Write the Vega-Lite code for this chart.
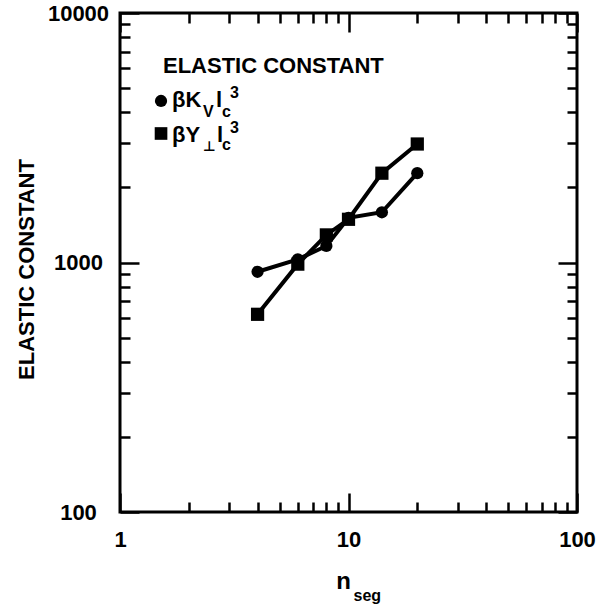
{
  "$schema": "https://vega.github.io/schema/vega-lite/v6.json",
  "width": 457,
  "height": 499,
  "autosize": {"type": "none"},
  "padding": {"left": 120, "top": 13, "right": 31, "bottom": 101},
  "background": "white",
  "config": {
    "view": {"stroke": "black", "strokeWidth": 3},
    "axis": {"grid": false, "domain": false, "tickColor": "black", "tickWidth": 2.5, "labelColor": "black", "titleColor": "black", "labelFont": "Liberation Sans", "titleFont": "Liberation Sans", "labelFontWeight": "bold", "titleFontWeight": "bold", "labelFontSize": 22, "titleFontSize": 21, "labelFlush": false, "labelOverlap": false, "labelBound": false},
    "text": {"font": "Liberation Sans", "fontWeight": "bold", "color": "black", "align": "left", "baseline": "alphabetic"}
  },
  "data": {"values": [
    {"n": 4, "value": 918, "series": "Kv"},
    {"n": 6, "value": 1030, "series": "Kv"},
    {"n": 8, "value": 1165, "series": "Kv"},
    {"n": 10, "value": 1510, "series": "Kv"},
    {"n": 14, "value": 1590, "series": "Kv"},
    {"n": 20, "value": 2280, "series": "Kv"},
    {"n": 4, "value": 620, "series": "Yperp"},
    {"n": 6, "value": 985, "series": "Yperp"},
    {"n": 8, "value": 1290, "series": "Yperp"},
    {"n": 10, "value": 1490, "series": "Yperp"},
    {"n": 14, "value": 2280, "series": "Yperp"},
    {"n": 20, "value": 2985, "series": "Yperp"}
  ]},
  "resolve": {"axis": {"x": "independent", "y": "independent"}},
  "layer": [
    {
      "layer": [
        {
          "mark": {"type": "line", "color": "black", "strokeWidth": 4},
          "encoding": {
            "x": {"field": "n", "type": "quantitative", "scale": {"type": "log", "domain": [1, 100]},
              "axis": {"orient": "bottom", "values": [1,2,3,4,5,6,7,8,9,10,20,30,40,50,60,70,80,90,100], "labels": false, "title": null,
                "tickSize": {"condition": {"test": "datum.value==1||datum.value==10||datum.value==100", "value": -19}, "value": -10}}},
            "y": {"field": "value", "type": "quantitative", "scale": {"type": "log", "domain": [100, 10000]},
              "axis": {"orient": "left", "values": [100,200,300,400,500,600,700,800,900,1000,2000,3000,4000,5000,6000,7000,8000,9000,10000], "labels": false, "title": null,
                "tickSize": {"condition": {"test": "datum.value==100||datum.value==1000||datum.value==10000", "value": -19}, "value": -10}}},
            "detail": {"field": "series"}
          }
        },
        {
          "mark": {"type": "point", "filled": true, "opacity": 1, "color": "black"},
          "encoding": {
            "x": {"field": "n", "type": "quantitative"},
            "y": {"field": "value", "type": "quantitative"},
            "shape": {"field": "series", "type": "nominal", "scale": {"domain": ["Kv", "Yperp"], "range": ["circle", "square"]}, "legend": null},
            "size": {"field": "series", "type": "nominal", "scale": {"domain": ["Kv", "Yperp"], "range": [150, 175]}, "legend": null}
          }
        },
        {
          "data": {"values": [{}]},
          "mark": {"type": "text", "text": "ELASTIC CONSTANT", "fontSize": 22},
          "encoding": {"x": {"datum": 1.542}, "y": {"datum": 5747}}
        },
        {
          "data": {"values": [{}]},
          "mark": {"type": "point", "filled": true, "opacity": 1, "color": "black", "shape": "circle", "size": 150},
          "encoding": {"x": {"datum": 1.512}, "y": {"datum": 4440}}
        },
        {
          "data": {"values": [{}]},
          "mark": {"type": "point", "filled": true, "opacity": 1, "color": "black", "shape": "square", "size": 160},
          "encoding": {"x": {"datum": 1.512}, "y": {"datum": 3289}}
        },
        {"data": {"values": [{}]}, "mark": {"type": "text", "text": "βK", "fontSize": 22}, "encoding": {"x": {"datum": 1.689}, "y": {"datum": 4201}}},
        {"data": {"values": [{}]}, "mark": {"type": "text", "text": "V", "fontSize": 16, "dx": 31, "dy": 10}, "encoding": {"x": {"datum": 1.689}, "y": {"datum": 4201}}},
        {"data": {"values": [{}]}, "mark": {"type": "text", "text": "l", "fontSize": 22, "dx": 44}, "encoding": {"x": {"datum": 1.689}, "y": {"datum": 4201}}},
        {"data": {"values": [{}]}, "mark": {"type": "text", "text": "c", "fontSize": 16, "dx": 50, "dy": 10}, "encoding": {"x": {"datum": 1.689}, "y": {"datum": 4201}}},
        {"data": {"values": [{}]}, "mark": {"type": "text", "text": "3", "fontSize": 16, "dx": 58, "dy": -9}, "encoding": {"x": {"datum": 1.689}, "y": {"datum": 4201}}},
        {"data": {"values": [{}]}, "mark": {"type": "text", "text": "βY", "fontSize": 22}, "encoding": {"x": {"datum": 1.689}, "y": {"datum": 3041}}},
        {"data": {"values": [{}]}, "mark": {"type": "text", "text": "⊥", "font": "DejaVu Sans", "fontSize": 14, "dx": 31, "dy": 9}, "encoding": {"x": {"datum": 1.689}, "y": {"datum": 3041}}},
        {"data": {"values": [{}]}, "mark": {"type": "text", "text": "l", "fontSize": 22, "dx": 45}, "encoding": {"x": {"datum": 1.689}, "y": {"datum": 3041}}},
        {"data": {"values": [{}]}, "mark": {"type": "text", "text": "c", "fontSize": 16, "dx": 50, "dy": 8}, "encoding": {"x": {"datum": 1.689}, "y": {"datum": 3041}}},
        {"data": {"values": [{}]}, "mark": {"type": "text", "text": "3", "fontSize": 16, "dx": 58, "dy": -9}, "encoding": {"x": {"datum": 1.689}, "y": {"datum": 3041}}}
      ]
    },
    {
      "mark": {"type": "point", "opacity": 0},
      "encoding": {
        "x": {"field": "n", "type": "quantitative", "scale": {"type": "log", "domain": [1, 100]},
          "axis": {"orient": "top", "values": [1,2,3,4,5,6,7,8,9,10,20,30,40,50,60,70,80,90,100], "labels": false,
            "tickSize": {"condition": {"test": "datum.value==1||datum.value==10||datum.value==100", "value": -19}, "value": -10},
            "title": "seg", "titleX": 233, "titleY": 587, "titleAlign": "left", "titleBaseline": "alphabetic", "titleFontSize": 16}},
        "y": {"field": "value", "type": "quantitative", "scale": {"type": "log", "domain": [100, 10000]},
          "axis": {"orient": "right", "values": [100,200,300,400,500,600,700,800,900,1000,2000,3000,4000,5000,6000,7000,8000,9000,10000], "labels": false,
            "tickSize": {"condition": {"test": "datum.value==100||datum.value==1000||datum.value==10000", "value": -19}, "value": -10},
            "title": null}}
      }
    },
    {
      "mark": {"type": "point", "opacity": 0},
      "encoding": {
        "x": {"field": "n", "type": "quantitative", "scale": {"type": "log", "domain": [1, 100]},
          "axis": {"orient": "bottom", "values": [1, 10, 100], "ticks": false,
            "format": "d", "labelPadding": 17, "labelBaseline": "top", "labelAlign": "center",
            "title": "n", "titleX": 223, "titleY": 76, "titleAlign": "center", "titleBaseline": "alphabetic", "titleFontSize": 24}},
        "y": {"field": "value", "type": "quantitative", "scale": {"type": "log", "domain": [100, 10000]},
          "axis": {"orient": "left", "values": [100, 1000, 10000], "ticks": false,
            "format": "d", "labelPadding": 42, "labelAlign": "center", "labelBaseline": "middle",
            "title": "ELASTIC CONSTANT", "titleX": -94, "titleY": 256, "titleAngle": -90, "titleAlign": "center", "titleBaseline": "middle", "titleFontSize": 22}}
      }
    }
  ]
}
